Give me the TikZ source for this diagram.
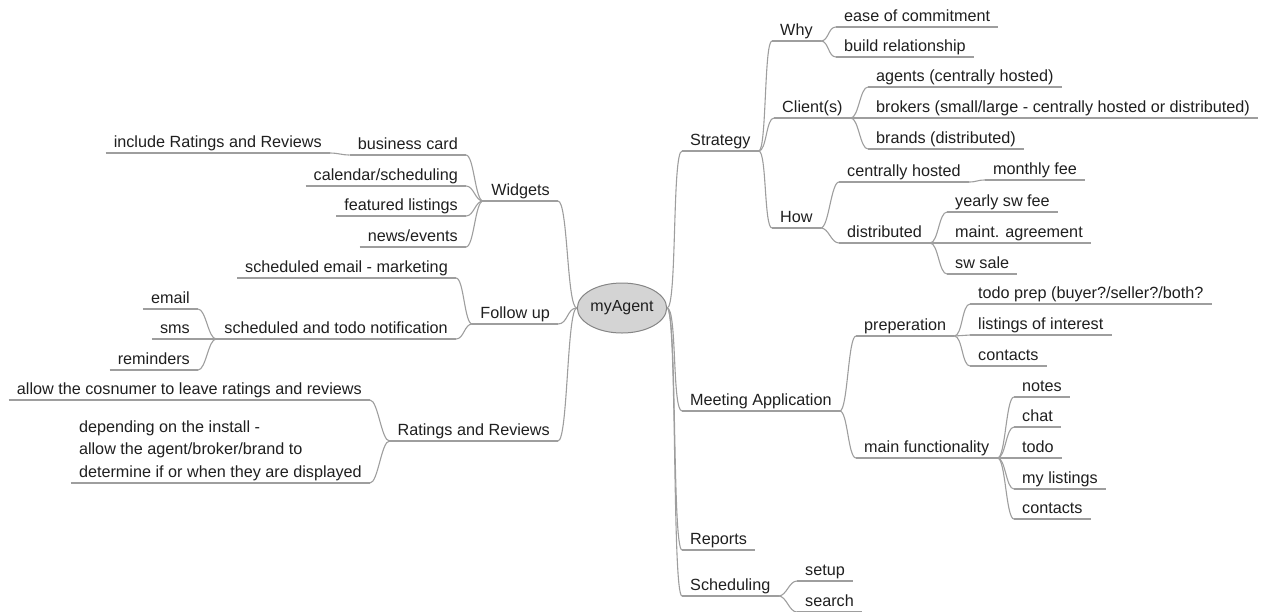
\documentclass[tikz,border=0pt]{standalone}
\usepackage{fontspec}
\setmainfont{Liberation Sans}
\usetikzlibrary{shapes.geometric}
\begin{document}
\begin{tikzpicture}[x=1pt,y=-1pt,
  topic/.style={inner xsep=8pt, inner ysep=4pt, text height=12pt, text depth=1pt,
    font=\fontsize{16.2}{19}\selectfont, text=black!88},
  rt/.style={topic, anchor=south west},
  lt/.style={topic, anchor=south east},
  line/.style={draw=black!38, line width=1.1pt},
  edge/.style={line, distance=8pt},
  redge/.style={edge, out=0, in=180},
  ledge/.style={edge, out=180, in=0},
  rootnode/.style={ellipse, draw=black!48, fill=black!17, line width=1pt,
    minimum width=80pt, minimum height=50pt, inner sep=0pt,
    font=\fontsize{16}{19}\selectfont, text=black!88}]
\useasboundingbox (0,0) rectangle (1265,611);
% root
\node[rootnode] (root) at (622,308) {myAgent};
% right side
\node[rt] (strategy) at (682,151) {Strategy};
\node[rt] (why) at (772,41) {Why};
\node[rt] (ease) at (836,27) {ease of commitment};
\node[rt] (build) at (836,57) {build relationship};
\node[rt] (clients) at (774,118) {Client(s)};
\node[rt] (agents) at (868,87) {agents (centrally hosted)};
\node[rt] (brokers) at (868,118) {brokers (small/large - centrally hosted or distributed)};
\node[rt] (brands) at (868,149) {brands (distributed)};
\node[rt] (how) at (772,228) {How};
\node[rt] (central) at (839,182) {centrally hosted};
\node[rt] (monthly) at (985,180) {monthly fee};
\node[rt] (distributed) at (839,243) {distributed};
\node[rt] (yearly) at (947,212) {yearly sw fee};
\node[rt] (maint) at (947,243) {maint. agreement};
\node[rt] (swsale) at (947,274) {sw sale};
\node[rt] (meeting) at (682,411) {Meeting Application};
\node[rt] (prep) at (856,336) {preperation};
\node[rt] (todoprep) at (970,304) {todo prep (buyer?/seller?/both?};
\node[rt] (listings) at (970,335) {listings of interest};
\node[rt] (contactsa) at (970,366) {contacts};
\node[rt] (mainf) at (856,458) {main functionality};
\node[rt] (notes) at (1014,397) {notes};
\node[rt] (chat) at (1014,427) {chat};
\node[rt] (todo) at (1014,458) {todo};
\node[rt] (mylist) at (1014,489) {my listings};
\node[rt] (contactsb) at (1014,519) {contacts};
\node[rt] (reports) at (682,550) {Reports};
\node[rt] (scheduling) at (682,596) {Scheduling};
\node[rt] (setup) at (797,581) {setup};
\node[rt] (search) at (797,612) {search};
% left side
\node[lt] (widgets) at (558,201) {Widgets};
\node[lt] (bcard) at (466,155) {business card};
\node[lt] (incl) at (330,153) {include Ratings and Reviews};
\node[lt] (calendar) at (466,186) {calendar/scheduling};
\node[lt] (featured) at (466,216) {featured listings};
\node[lt] (news) at (466,247) {news/events};
\node[lt] (followup) at (558,324) {Follow up};
\node[lt] (schedemail) at (456,278) {scheduled email - marketing};
\node[lt] (schednotif) at (456,339) {scheduled and todo notification};
\node[lt] (email) at (198,309) {email};
\node[lt] (sms) at (198,339) {sms};
\node[lt] (reminders) at (198,370) {reminders};
\node[lt] (ratings) at (558,441) {Ratings and Reviews};
\node[lt] (allow) at (370,400) {allow the cosnumer to leave ratings and reviews};
\node[anchor=south east, inner xsep=8pt, inner ysep=2pt, align=left,
  font=\fontsize{16.2}{22.5}\selectfont, text=black!88] (depending) at (370,483)
  {depending on the install -\\allow the agent/broker/brand to\\determine if or when they are displayed};
% underlines
\foreach \n in {strategy,why,ease,build,clients,agents,brokers,brands,how,central,
  monthly,distributed,yearly,maint,swsale,meeting,prep,todoprep,listings,contactsa,
  mainf,notes,chat,todo,mylist,contactsb,reports,scheduling,setup,search,
  widgets,bcard,incl,calendar,featured,news,followup,schedemail,schednotif,
  email,sms,reminders,ratings,allow,depending}
  \draw[line] (\n.south west) -- (\n.south east);
% right edges
\foreach \t in {strategy,meeting,reports,scheduling}
  \draw[redge, distance=10pt] (root.east) to (\t.south west);
\foreach \t in {why,clients,how} \draw[redge] (strategy.south east) to (\t.south west);
\foreach \t in {ease,build} \draw[redge] (why.south east) to (\t.south west);
\foreach \t in {agents,brokers,brands} \draw[redge] (clients.south east) to (\t.south west);
\foreach \t in {central,distributed} \draw[redge] (how.south east) to (\t.south west);
\draw[redge] (central.south east) to (monthly.south west);
\foreach \t in {yearly,maint,swsale} \draw[redge] (distributed.south east) to (\t.south west);
\foreach \t in {prep,mainf} \draw[redge] (meeting.south east) to (\t.south west);
\foreach \t in {todoprep,listings,contactsa} \draw[redge] (prep.south east) to (\t.south west);
\foreach \t in {notes,chat,todo,mylist,contactsb} \draw[redge] (mainf.south east) to (\t.south west);
\foreach \t in {setup,search} \draw[redge] (scheduling.south east) to (\t.south west);
% left edges
\foreach \t in {widgets,followup,ratings}
  \draw[ledge, distance=10pt] (root.west) to (\t.south east);
\foreach \t in {bcard,calendar,featured,news} \draw[ledge] (widgets.south west) to (\t.south east);
\draw[ledge] (bcard.south west) to (incl.south east);
\foreach \t in {schedemail,schednotif} \draw[ledge] (followup.south west) to (\t.south east);
\foreach \t in {email,sms,reminders} \draw[ledge] (schednotif.south west) to (\t.south east);
\foreach \t in {allow,depending} \draw[ledge] (ratings.south west) to (\t.south east);
\end{tikzpicture}
\end{document}
